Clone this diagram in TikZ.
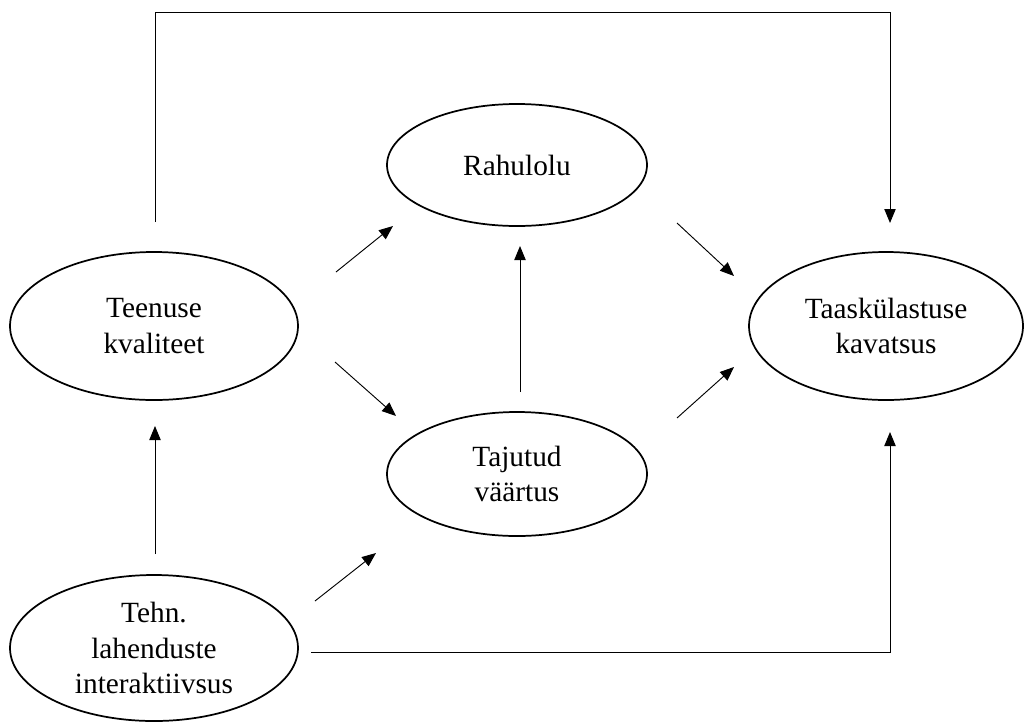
\documentclass[tikz,border=0pt]{standalone}
\usepackage{fontspec}
\setmainfont{Liberation Serif}
\usetikzlibrary{shapes.geometric,arrows.meta}
\begin{document}
\begin{tikzpicture}[x=0.75pt,y=-0.75pt,
  ell/.style={draw,ellipse,line width=1.3pt,inner sep=0pt,align=center,font=\fontsize{22pt}{26.5pt}\selectfont},
  arr/.style={line width=0.7pt,-{Triangle[length=10.5pt,width=8.5pt]}},
  ln/.style={line width=0.7pt}]
\useasboundingbox (0,0) rectangle (1024,722);
% nodes
\node[ell,minimum width=216pt,minimum height=111pt] (tk) at (154,326) {Teenuse\\kvaliteet};
\node[ell,minimum width=195pt,minimum height=91.5pt] (ra) at (517,165) {Rahulolu};
\node[ell,minimum width=195pt,minimum height=93pt] (tv) at (517,474) {Tajutud\\väärtus};
\node[ell,minimum width=205.5pt,minimum height=111pt] (ka) at (886,326) {Taaskülastuse\\kavatsus};
\node[ell,minimum width=216pt,minimum height=109.5pt] (ti) at (154,648) {Tehn.\\lahenduste\\interaktiivsus};
% connector endpoints
\coordinate (t0) at (155,222);
\coordinate (t1) at (155,12);
\coordinate (t2) at (890,12);
\coordinate (t3) at (890,223);
\coordinate (a1s) at (336,272); \coordinate (a1e) at (393,226);
\coordinate (a2s) at (335,362); \coordinate (a2e) at (396,416);
\coordinate (a3s) at (677,223); \coordinate (a3e) at (734,276);
\coordinate (a4s) at (677,418); \coordinate (a4e) at (734,367);
\coordinate (a5s) at (520,392); \coordinate (a5e) at (520,246);
\coordinate (a6s) at (155,554); \coordinate (a6e) at (155,426);
\coordinate (a7s) at (315,601); \coordinate (a7e) at (376,553);
\coordinate (b0) at (311,652);
\coordinate (b1) at (890,652);
\coordinate (b2) at (890,432);
% connectors
\draw[arr] (t0) -- (t1) -- (t2) -- (t3);
\draw[arr] (a1s) -- (a1e);
\draw[arr] (a2s) -- (a2e);
\draw[arr] (a3s) -- (a3e);
\draw[arr] (a4s) -- (a4e);
\draw[arr] (a5s) -- (a5e);
\draw[arr] (a6s) -- (a6e);
\draw[arr] (a7s) -- (a7e);
\draw[arr] (b0) -- (b1) -- (b2);
\end{tikzpicture}
\end{document}
